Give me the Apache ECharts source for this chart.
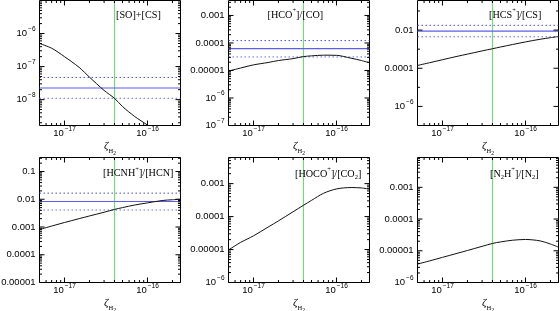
<!DOCTYPE html>
<html><head><meta charset="utf-8">
<script src="https://cdn.jsdelivr.net/npm/echarts@6/dist/echarts.min.js"></script>
<style>html,body{margin:0;padding:0;background:#fff}#c{width:560px;height:311px}</style>
</head><body><div id="c"></div>
<script>
// ---- data ----
const zeta = [5e-18,7e-18,1e-17,1.5e-17,2e-17,3e-17,4e-17,5e-17,7e-17,1e-16,1.5e-16,2e-16,2.5e-16];
const ratioSOCS = [5.0e-7,3.6e-7,2.0e-7,9.5e-8,4.8e-8,1.9e-8,1.1e-8,6.2e-9,3.1e-9,1.7e-9,8e-10,5e-10,4e-10];
const ratioHCO  = [9.5e-6,1.23e-5,1.6e-5,1.95e-5,2.3e-5,2.7e-5,3.2e-5,3.4e-5,3.6e-5,3.55e-5,2.8e-5,2.3e-5,1.9e-5];
const ratioHCS  = [1.4e-4,1.95e-4,2.8e-4,4.2e-4,5.5e-4,8.1e-4,1.05e-3,1.3e-3,1.75e-3,2.4e-3,3.3e-3,4.0e-3,4.6e-3];
const ratioHCNH = [8.1e-4,1.08e-3,1.45e-3,2.0e-3,2.5e-3,3.4e-3,4.3e-3,5.0e-3,6.2e-3,7.4e-3,9.0e-3,9.6e-3,1.0e-2];
const ratioHOCO = [9.7e-6,1.65e-5,2.6e-5,4.8e-5,7.4e-5,1.4e-4,2.2e-4,3.1e-4,5.1e-4,6.9e-4,7.6e-4,7.4e-4,6.8e-4];
const ratioN2H  = [3.8e-6,4.8e-6,6.2e-6,8.3e-6,1.02e-5,1.38e-5,1.7e-5,1.9e-5,2.15e-5,2.27e-5,2.05e-5,1.63e-5,1.3e-5];
const panelRatios = [ratioSOCS, ratioHCO, ratioHCS, ratioHCNH, ratioHOCO, ratioN2H];

const obsMid  = [2.25e-8, 6.2e-5, 8.9e-3, 8.3e-3, null, null];
const obsHigh = [4.7e-8, 1.22e-4, 1.78e-2, 1.66e-2, null, null];
const obsLow  = [1.1e-8, 3.1e-5, 4.45e-3, 4.1e-3, null, null];
const zetaMark = 4e-17;

const panelTitles = [
  '{n|[SO]+[CS]}',
  '{n|[HCO}{sp|+}{n|]/[CO]}',
  '{n|[HCS}{sp|+}{n|]/[CS]}',
  '{n|[HCNH}{sp|+}{n|]/[HCN]}',
  '{n|[HOCO}{sp|+}{n|]/[CO}{sb|2}{n|]}',
  '{n|[N}{sb|2}{n|H}{sp|+}{n|]/[N}{sb|2}{n|]}'
];

const xRange = [5e-18, 2.5e-16];
const xTickLabels = [1e-17, 1e-16];
const yRanges = [[1.65e-9,1e-5],[1e-7,3.5e-3],[1e-7,0.355],[1e-5,0.32],[1e-6,6.2e-3],[1e-6,8.7e-3]];
const yTickLabels = [
  [1e-8,1e-7,1e-6],
  [1e-7,1e-6,1e-5,1e-4,1e-3],
  [1e-6,1e-4,1e-2],
  [1e-5,1e-4,1e-3,1e-2,1e-1],
  [1e-6,1e-5,1e-4,1e-3],
  [1e-6,1e-5,1e-4,1e-3]
];

// ---- layout ----
const L = Math.log10;
const gLeft = [39.5, 228.5, 417.5], gTop = [0.5, 157.5], gW = 141, gH = 125;
const FONT = 'Liberation Sans';
const SERIF = 'Liberation Serif';
const MAJ = 5, MIN = 2.5;

function minorLog(min, max, decadeOnly) {
  const out = [];
  for (let n = -20; n <= 2; n++) {
    const ks = decadeOnly ? [1] : [2,3,4,5,6,7,8,9];
    for (const k of ks) {
      const v = k * Math.pow(10, n);
      if (v > min * 1.0001 && v < max * 0.9999) out.push(L(v));
    }
  }
  return out;
}
function yFmt(v) {
  const e = Math.round(v);
  return e >= -5 ? '{b|' + Math.pow(10, e).toFixed(-e) + '}' : '{b|10}{s|\u2212' + (-e) + '}';
}
function xFmt(v) { const e = Math.round(v); return '{b|10}{s|\u2212' + (-e) + '}'; }
const labRich = {
  b: {fontSize: 9.5, fontFamily: FONT, color: '#000', verticalAlign: 'top', padding: [3,0,3,0]},
  s: {fontSize: 6.5, fontFamily: FONT, color: '#000', verticalAlign: 'top', padding: [0,0,0,1]}
};
const nameRich = {
  z: {fontSize: 11, fontFamily: SERIF, fontStyle: 'italic', color: '#000', verticalAlign: 'top'},
  h: {fontSize: 6.5, fontFamily: SERIF, color: '#000', verticalAlign: 'top', padding: [7,0,0,0]},
  t: {fontSize: 5.5, fontFamily: SERIF, color: '#000', verticalAlign: 'top', padding: [10,0,0,0]}
};

const grids = [], xAxes = [], yAxes = [], series = [], graphics = [];
for (let p = 0; p < 6; p++) {
  const row = Math.floor(p / 3), col = p % 3;
  grids.push({left: gLeft[col], top: gTop[row], width: gW, height: gH,
    containLabel: false, outerBoundsMode: 'none', show: true, borderColor: '#000', borderWidth: 1,
    backgroundColor: 'transparent'});
  const yr = yRanges[p];
  const x0 = L(xRange[0]), x1 = L(xRange[1]), y0 = L(yr[0]), y1 = L(yr[1]);
  const xMaj = xTickLabels.map(L), yMaj = yTickLabels[p].map(L);

  xAxes.push({type: 'value', gridIndex: p, min: x0, max: x1, scale: true,
    splitLine: {show: false}, axisLine: {show: false}, axisTick: {show: false},
    axisLabel: {show: true, customValues: xMaj, formatter: xFmt, rich: labRich, margin: 0},
    name: '{z|\u03b6}{h|H}{t|2}', nameLocation: 'middle', nameGap: 15, nameTextStyle: {rich: nameRich}});
  yAxes.push({type: 'value', gridIndex: p, min: y0, max: y1, scale: true,
    splitLine: {show: false}, axisLine: {show: false}, axisTick: {show: false},
    axisLabel: {show: true, customValues: yMaj, formatter: yFmt, rich: labRich, margin: 4}});

  const ln = {xAxisIndex: p, yAxisIndex: p, type: 'line', symbol: 'none', silent: true, clip: true};
  series.push(Object.assign({}, ln, {z: 1, lineStyle: {color: '#63dc63', width: 1},
    data: [[L(zetaMark), y0], [L(zetaMark), y1]]}));
  if (obsMid[p] != null) {
    const xs = [x0, x1];
    series.push(Object.assign({}, ln, {z: 1, lineStyle: {color: '#4a4af2', width: 1, type: [1.5, 2.5]},
      data: xs.map(x => [x, L(obsHigh[p])])}));
    series.push(Object.assign({}, ln, {z: 1, lineStyle: {color: '#5c5cee', width: 1.2, type: 'solid'},
      data: xs.map(x => [x, L(obsMid[p])])}));
    series.push(Object.assign({}, ln, {z: 1, lineStyle: {color: '#6a6af2', width: 1, type: [1.5, 2.5]},
      data: xs.map(x => [x, L(obsLow[p])])}));
  }
  series.push(Object.assign({}, ln, {z: 3, smooth: 0.3, lineStyle: {color: '#111', width: 1},
    data: zeta.map((z, i) => [L(z), L(panelRatios[p][i])])}));

  // tick marks on all four sides as short segments placed on the axes' scales
  const dxPx = (x1 - x0) / gW, dyPx = (y1 - y0) / gH;
  const xMinor = minorLog(xRange[0], xRange[1], false);
  const yMinor = minorLog(yr[0], yr[1], p === 2).filter(v => yMaj.every(t => Math.abs(v - t) > 1e-6));
  const tk = [];
  const addX = (v, len) => { tk.push([v, y0], [v, y0 + len * dyPx], null, [v, y1], [v, y1 - len * dyPx], null); };
  const addY = (v, len) => { tk.push([x0, v], [x0 + len * dxPx, v], null, [x1, v], [x1 - len * dxPx, v], null); };
  xMaj.forEach(v => addX(v, MAJ)); xMinor.forEach(v => addX(v, MIN));
  yMaj.forEach(v => addY(v, MAJ)); yMinor.forEach(v => addY(v, MIN));
  series.push({xAxisIndex: p, yAxisIndex: p, type: 'line', symbol: 'none', silent: true, clip: false,
    connectNulls: false, z: 4, lineStyle: {color: '#000', width: 1}, data: tk});
}

const titlePos = [[116, 15], [267.5, 15], [489, 15], [103, 173.5], [295, 174], [490, 174]];
for (let p = 0; p < 6; p++) {
  graphics.push({type: 'text', x: titlePos[p][0], y: titlePos[p][1], silent: true, z: 10,
    style: {text: panelTitles[p], verticalAlign: 'middle', align: 'left',
      rich: {
        n: {fontSize: 10.2, fontFamily: SERIF, fill: '#000', verticalAlign: 'top', padding: [3,0,3,0]},
        sp: {fontSize: 6.5, fontFamily: SERIF, fill: '#000', verticalAlign: 'top'},
        sb: {fontSize: 6.5, fontFamily: SERIF, fill: '#000', verticalAlign: 'top', padding: [8,0,0,0]}
      }}});
}

const chart = echarts.init(document.getElementById('c'), null, {renderer: 'canvas'});
chart.setOption({animation: false, backgroundColor: '#fff', grid: grids, xAxis: xAxes, yAxis: yAxes, series: series, graphic: graphics});
</script></body></html>
